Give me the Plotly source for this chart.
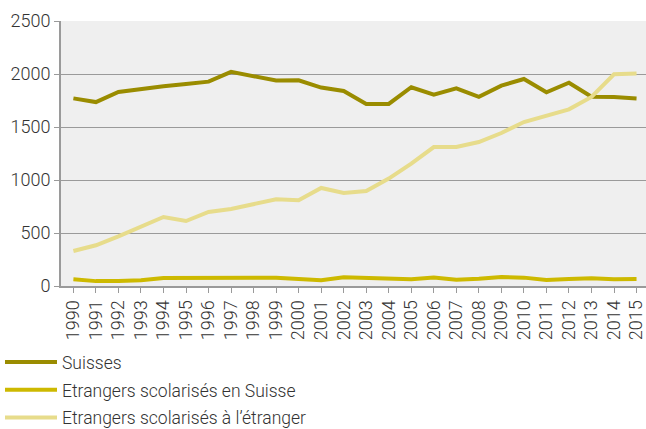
import plotly.graph_objects as go

# Years on the x axis
years = list(range(1990, 2016))

# Series values
suisses = [1770, 1735, 1830, 1860, 1885, 1905, 1928, 2020, 1978, 1938,
           1940, 1872, 1840, 1718, 1718, 1875, 1805, 1865, 1785, 1890,
           1953, 1828, 1918, 1785, 1782, 1770]
etrangers_suisse = [63, 46, 46, 54, 75, 75, 80, 78, 82, 79,
                    66, 54, 82, 73, 66, 63, 79, 60, 69, 85,
                    79, 57, 66, 73, 63, 66]
etrangers_etranger = [330, 384, 469, 557, 651, 613, 698, 726, 771, 818,
                      808, 925, 877, 896, 1013, 1155, 1311, 1311, 1358, 1443,
                      1547, 1607, 1667, 1783, 1997, 2004]

series_names = ['Suisses', 'Etrangers scolarisés en Suisse',
                'Etrangers scolarisés à l\u2019étranger']
series_colors = ['#9a8c00', '#cdb900', '#e7dc8b']

y_ticks = [0, 500, 1000, 1500, 2000, 2500]

fig = go.Figure()
for i, (name, values, color) in enumerate(zip(series_names,
                                              [suisses, etrangers_suisse, etrangers_etranger],
                                              series_colors)):
    fig.add_trace(go.Scatter(x=years, y=values, name=name, mode='lines',
                             legendgroup=str(i),
                             line=dict(color=color, width=4)))

fig.update_layout(
    width=646, height=429,
    margin=dict(l=61, r=0, t=21, b=143, autoexpand=False),
    paper_bgcolor='white',
    plot_bgcolor='#efefef',
    font=dict(family='Roboto', size=18, color='#333333', weight=300),
    showlegend=True,
    legend=dict(xref='container', yref='container', x=0, y=0.198,
                xanchor='left', yanchor='top', orientation='v',
                tracegroupgap=2, itemwidth=52,
                font=dict(size=17.5, color='#333333')),
)
fig.update_xaxes(
    tickvals=years, ticktext=[str(y) for y in years], tickangle=-90,
    range=[1989.45, 2015.42],
    ticklabeloverflow='allow',
    showgrid=False, zeroline=False,
    showline=True, linecolor='#9a9a9a', linewidth=2,
    ticks='outside', ticklen=5, tickcolor='#9a9a9a', tickwidth=1,
    tickfont=dict(size=18),
)
fig.update_yaxes(
    tickvals=y_ticks, range=[0, 2500],
    showgrid=True, gridcolor='#9a9a9a', gridwidth=1,
    zeroline=False,
    showline=True, linecolor='#9a9a9a', linewidth=2,
    ticks='outside', ticklen=5, tickcolor='#9a9a9a',
    tickfont=dict(size=18),
)

# drop the default page margin so the figure sits at the window's corner
fig.write_html("out.html", config={'displayModeBar': False},
               post_script="document.body.style.margin='0';")
